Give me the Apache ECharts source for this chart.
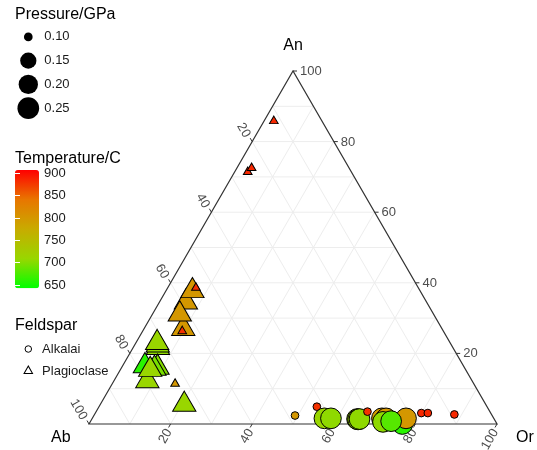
<!DOCTYPE html>
<html><head><meta charset="utf-8">
<script src="https://cdn.jsdelivr.net/npm/echarts@6/dist/echarts.min.js"></script>
<style>html,body{margin:0;padding:0;background:#fff}#c{width:537px;height:450px}</style>
</head><body><div id="c"></div>
<script>
// ---------- data (percent Ab / An / Or, temperature C, pressure GPa) ----------
const alkAb = [48.3, 41.7, 41.5, 39.9, 33.6, 33.4, 33.0, 30.0, 23.2, 27.4, 26.4, 21.5, 27.65, 25.55, 17.0, 15.4, 9.1];
const alkAn = [2.4, 4.9, 1.6, 1.6, 1.4, 1.3, 1.4, 3.5, 0.0, 1.6, 1.6, 1.6, 0.6, 0.8, 3.1, 3.1, 2.7];
const alkOr = [49.3, 53.4, 56.9, 58.5, 65.0, 65.3, 65.6, 66.5, 76.8, 71.0, 72.0, 76.9, 71.75, 73.65, 79.9, 81.5, 88.2];
const alkT  = [800, 880, 710, 705, 712, 708, 705, 880, 660, 795, 800, 800, 705, 680, 885, 885, 885];
const alkP  = [0.10, 0.10, 0.25, 0.25, 0.25, 0.25, 0.25, 0.10, 0.25, 0.25, 0.25, 0.25, 0.25, 0.25, 0.10, 0.10, 0.10];

const plaAb = [72.3, 72.0, 71.8, 79.6, 78.1, 75.2, 76.1, 77.3, 73.2, 73.9, 59.0, 63.4, 62.2, 64.0, 55.8, 54.5, 25.4, 23.9, 11.8];
const plaAn = [21.6, 22.3, 23.0, 12.2, 16.4, 16.0, 15.7, 15.4, 11.4, 5.5, 34.5, 27.0, 31.1, 26.3, 37.7, 38.6, 71.4, 72.5, 85.8];
const plaOr = [6.1, 5.7, 5.2, 8.2, 5.5, 8.8, 8.2, 7.3, 15.4, 20.6, 6.5, 9.6, 6.7, 9.7, 6.5, 6.9, 3.2, 3.6, 2.4];
const plaT  = [705, 705, 710, 710, 660, 700, 695, 710, 800, 710, 800, 800, 800, 880, 800, 880, 885, 885, 885];
const plaP  = [0.25, 0.25, 0.25, 0.25, 0.25, 0.25, 0.25, 0.25, 0.10, 0.25, 0.25, 0.25, 0.25, 0.10, 0.25, 0.10, 0.10, 0.10, 0.10];

const tickValues = [20, 40, 60, 80, 100];
const gridValues = [10, 20, 30, 40, 50, 60, 70, 80, 90];
const axisNames = ['An', 'Ab', 'Or'];
const pressureBreaks = [0.10, 0.15, 0.20, 0.25];
const pressureLabels = ['0.10', '0.15', '0.20', '0.25'];
const tempLimits = [642.6, 907.4];
const tempBreaks = [650, 700, 750, 800, 850, 900];
const feldsparTypes = ['Alkalai', 'Plagioclase'];

// ---------- helpers ----------
const H = Math.sqrt(3) / 2;
function ternXY(ab, an, or) { const s = ab + an + or; return [(or + an / 2) / s, an / s * H]; }
// outer marker diameter (px) for a pressure, sqrt (area) scaling
function pOuter(p) { return 8.7 + 13 * Math.sqrt(Math.max((p - 0.1) / 0.15, 0)); }
function pFill(p) { return pOuter(p) - 1; }
const FONT = '"Liberation Sans", Arial, Helvetica, sans-serif';

const alkData = alkAb.map((ab, i) => { const xy = ternXY(ab, alkAn[i], alkOr[i]); return [xy[0], xy[1], alkT[i], alkP[i]]; });
const plaData = plaAb.map((ab, i) => { const xy = ternXY(ab, plaAn[i], plaOr[i]); return [xy[0], xy[1], plaT[i], plaP[i]]; });

// grid line ends, k: 0=An, 1=Ab, 2=Or ; points as [Ab, An, Or]
function gridEnds(k, v) {
  if (k === 0) return [[100 - v, v, 0], [0, v, 100 - v]];
  if (k === 1) return [[v, 100 - v, 0], [v, 0, 100 - v]];
  return [[0, 100 - v, v], [100 - v, 0, v]];
}
function tickPoint(k, v) {
  if (k === 0) return [0, v, 100 - v];
  if (k === 1) return [v, 100 - v, 0];
  return [100 - v, 0, v];
}
const tickDir = [[1, 0], [-0.5, -H], [-0.5, H]];
const labelOff = [[7, 0.5], [-5, -5], [-1.5, 6]];
const labelRot = [0, -Math.PI / 3, Math.PI / 3];
const labelAlign = ['left', 'right', 'right'];

const gridItems = [];
for (let k = 0; k < 3; k++) for (const v of gridValues) gridItems.push([k, v]);
const tickItems = [];
for (let k = 0; k < 3; k++) for (const v of tickValues) tickItems.push([k, v]);
const corners = [[100, 0, 0], [0, 100, 0], [0, 0, 100]];

const chart = echarts.init(document.getElementById('c'), null, { renderer: 'canvas' });
const option = {
  animation: false,
  backgroundColor: '#fff',
  grid: [
    { left: 89, top: 71, width: 408, height: 353 },
    { left: 15, top: 173.3, width: 24, height: 111.7 },
    { left: 15, top: 25, width: 26.6, height: 95 },
    { left: 17, top: 338, width: 22.6, height: 44 }
  ],
  xAxis: [
    { gridIndex: 0, type: 'value', min: 0, max: 1, show: false },
    { gridIndex: 1, type: 'value', min: 0, max: 1, show: false },
    { gridIndex: 2, type: 'value', min: -1, max: 1, show: false },
    { gridIndex: 3, type: 'value', min: -1, max: 1, show: false }
  ],
  yAxis: [
    { gridIndex: 0, type: 'value', min: 0, max: H, show: false },
    { gridIndex: 1, type: 'value', min: tempBreaks[0], max: tempBreaks[tempBreaks.length - 1], interval: 50, position: 'right', z: 10,
      axisLine: { show: false }, splitLine: { show: false },
      axisTick: { show: true, inside: true, length: 5, lineStyle: { color: '#fff', width: 1 } },
      axisLabel: { margin: 5, color: '#1a1a1a', fontSize: 13, fontFamily: FONT } },
    { gridIndex: 1, type: 'value', min: tempBreaks[0], max: tempBreaks[tempBreaks.length - 1], interval: 50, position: 'left', z: 10,
      axisLine: { show: false }, splitLine: { show: false },
      axisTick: { show: true, inside: true, length: 5, lineStyle: { color: '#fff', width: 1 } },
      axisLabel: { show: false } },
    { gridIndex: 2, type: 'category', data: pressureLabels, inverse: true, position: 'right',
      axisLine: { show: false }, axisTick: { show: false }, splitLine: { show: false },
      axisLabel: { margin: 2.7, color: '#1a1a1a', fontSize: 13, fontFamily: FONT } },
    { gridIndex: 3, type: 'category', data: feldsparTypes, inverse: true, position: 'right',
      axisLine: { show: false }, axisTick: { show: false }, splitLine: { show: false },
      axisLabel: { margin: 2.5, color: '#1a1a1a', fontSize: 13, fontFamily: FONT } }
  ],
  visualMap: {
    type: 'continuous', min: tempLimits[0], max: tempLimits[1], dimension: 2, seriesIndex: [3, 4],
    inRange: { color: ['#00FF00', '#98D700', '#C8AB00', '#E87600', '#FF0000'] },
    left: 15, top: 170, itemWidth: 24, itemHeight: 118.3, calculable: false, text: null,
    padding: 0, show: true, hoverLink: false, orient: 'vertical'
  },
  graphic: [
    { type: 'text', x: 15, y: 14.5, style: { text: 'Pressure/GPa', font: '16px ' + FONT, fill: '#000', verticalAlign: 'middle' } },
    { type: 'text', x: 15, y: 159, style: { text: 'Temperature/C', font: '16px ' + FONT, fill: '#000', verticalAlign: 'middle' } },
    { type: 'text', x: 15, y: 326, style: { text: 'Feldspar', font: '16px ' + FONT, fill: '#000', verticalAlign: 'middle' } },
    { type: 'text', x: 293, y: 46, style: { text: axisNames[0], font: '16px ' + FONT, fill: '#000', align: 'center', verticalAlign: 'middle' } },
    { type: 'text', x: 51, y: 438, style: { text: axisNames[1], font: '16px ' + FONT, fill: '#000', align: 'left', verticalAlign: 'middle' } },
    { type: 'text', x: 516, y: 438, style: { text: axisNames[2], font: '16px ' + FONT, fill: '#000', align: 'left', verticalAlign: 'middle' } }
  ],
  series: [
    { type: 'custom', coordinateSystem: 'cartesian2d', xAxisIndex: 0, yAxisIndex: 0, z: 1, silent: true,
      data: gridItems,
      renderItem: function (params, api) {
        const k = api.value(0), v = api.value(1);
        const e = gridEnds(k, v);
        const p1 = api.coord(ternXY(e[0][0], e[0][1], e[0][2]));
        const p2 = api.coord(ternXY(e[1][0], e[1][1], e[1][2]));
        return { type: 'line', shape: { x1: p1[0], y1: p1[1], x2: p2[0], y2: p2[1] },
                 style: { stroke: '#EDEDED', lineWidth: 1 } };
      } },
    { type: 'custom', coordinateSystem: 'cartesian2d', xAxisIndex: 0, yAxisIndex: 0, z: 2, silent: true,
      data: [[0, 0]],
      renderItem: function (params, api) {
        const pts = corners.map(c => api.coord(ternXY(c[0], c[1], c[2])));
        return { type: 'polygon', shape: { points: pts }, style: { fill: 'none', stroke: '#333', lineWidth: 1.2 } };
      } },
    { type: 'custom', coordinateSystem: 'cartesian2d', xAxisIndex: 0, yAxisIndex: 0, z: 2, silent: true,
      data: tickItems,
      renderItem: function (params, api) {
        const k = api.value(0), v = api.value(1);
        const t = tickPoint(k, v);
        const p = api.coord(ternXY(t[0], t[1], t[2]));
        const d = tickDir[k];
        const o = labelOff[k];
        return { type: 'group', children: [
          { type: 'line', shape: { x1: p[0], y1: p[1], x2: p[0] + d[0] * 4, y2: p[1] + d[1] * 4 },
            style: { stroke: '#333', lineWidth: 1 } },
          { type: 'text', x: p[0] + o[0], y: p[1] + o[1], rotation: labelRot[k],
            style: { text: String(v), align: labelAlign[k], verticalAlign: 'middle', fill: '#4D4D4D', font: '13px ' + FONT } }
        ] };
      } },
    { type: 'scatter', name: 'Alkalai', xAxisIndex: 0, yAxisIndex: 0, z: 5, symbol: 'circle',
      data: alkData,
      symbolSize: function (v) { return pFill(v[3]); },
      itemStyle: { borderColor: '#000', borderWidth: 1, opacity: 1 } },
    { type: 'scatter', name: 'Plagioclase', xAxisIndex: 0, yAxisIndex: 0, z: 5, symbol: 'triangle',
      data: plaData,
      symbolSize: function (v) { const d = pFill(v[3]); return [1.126 * d, 0.975 * d]; },
      symbolOffset: [0, '-16.67%'],
      itemStyle: { borderColor: '#000', borderWidth: 1, opacity: 1 } },
    { type: 'scatter', xAxisIndex: 2, yAxisIndex: 3, symbol: 'circle', silent: true,
      data: pressureBreaks.map((p, i) => [0, i, p]),
      symbolSize: function (v) { return pOuter(v[2]); },
      itemStyle: { color: '#000', opacity: 1 } },
    { type: 'scatter', xAxisIndex: 3, yAxisIndex: 4, silent: true,
      data: feldsparTypes.map((t, i) => i === 0
        ? { value: [0, i], symbol: 'circle', symbolSize: 6.5 }
        : { value: [0, i], symbol: 'triangle', symbolSize: [8.5, 7.5], symbolOffset: [0, '-16.67%'] }),
      itemStyle: { color: '#fff', borderColor: '#000', borderWidth: 1, opacity: 1 } }
  ]
};
chart.setOption(option);
</script>
</body></html>
